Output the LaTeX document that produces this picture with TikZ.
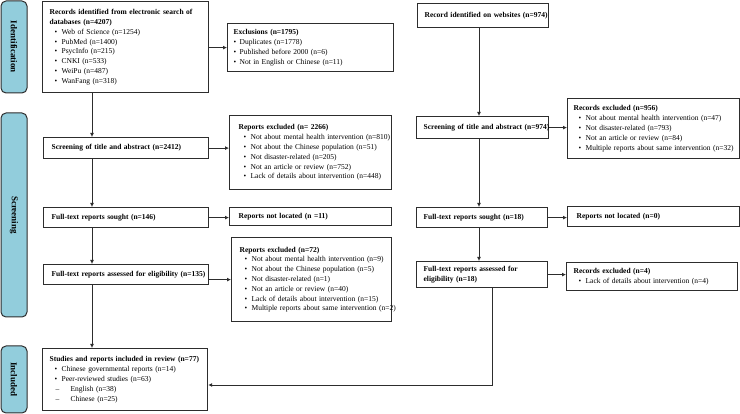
\documentclass[tikz,border=0pt]{standalone}
\usepackage{fontspec}
\setmainfont{Liberation Serif}
\usetikzlibrary{arrows.meta}
\definecolor{sideblue}{RGB}{146,205,220}
\definecolor{edge}{RGB}{45,45,45}
\newcommand{\itm}[1]{\\\mbox{\hspace*{5pt}\makebox[7pt][l]{\textbullet}#1}}
\newcommand{\itmz}[1]{\\\mbox{\makebox[6pt][l]{\textbullet}#1}}
\newcommand{\sitm}[1]{\\\mbox{\hspace*{5pt}\makebox[16pt][l]{\hspace*{1pt}--}#1}}
\newcommand{\ttl}[1]{\mbox{\bfseries #1}}
\tikzset{
  box/.style={draw=edge, line width=1.2pt, anchor=north west, align=left, inner ysep=0pt,
    font=\fontsize{7.5}{9.8}\selectfont},
  side/.style={draw=edge, line width=1pt, fill=sideblue, rounded corners=5pt, rotate=-90,
    minimum height=26pt, inner sep=0pt, font=\fontsize{9}{10}\selectfont\bfseries},
  arr/.style={draw=edge, line width=0.8pt, -{Latex[length=4pt,width=4pt]}},
  ln/.style={draw=edge, line width=0.8pt}
}
\begin{document}
\begin{tikzpicture}[x=1pt,y=-1pt]
\useasboundingbox (0,0) rectangle (740,414);

% side bars
\node[side, minimum width=92pt] (sid) at (14,47) {Identification};
\node[side, minimum width=204pt] (sscr) at (14,215) {Screening};
\node[side, minimum width=67pt] (sinc) at (14,379.5) {Included};

% left column
\node[box, inner xsep=7pt, minimum width=166pt, minimum height=91pt, text width=152pt] (A) at (42,1)
 {\ttl{Records identified from electronic search of}\\\ttl{databases (n=4207)}%
  \itm{Web of Science (n=1254)}\itm{PubMed (n=1400)}\itm{PsycInfo (n=215)}%
  \itm{CNKI (n=533)}\itm{WeiPu (n=487)}\itm{WanFang (n=318)}};
\node[box, inner xsep=6pt, minimum width=166pt, minimum height=48pt, text width=154pt] (excl) at (227,23)
 {\ttl{Exclusions (n=1795)}\itmz{Duplicates (n=1778)}\itmz{Published before 2000 (n=6)}%
  \itmz{Not in English or Chinese (n=11)}};
\node[box, inner xsep=8pt, minimum width=165pt, minimum height=21pt, text width=149pt] (scr) at (43,137)
 {\ttl{Screening of title and abstract (n=2412)}};
\node[box, inner xsep=9pt, minimum width=162pt, minimum height=74pt, text width=144pt] (rex1) at (229,115)
 {\ttl{Reports excluded (n= 2266)}\itm{Not about mental health intervention (n=810)}%
  \itm{Not about the Chinese population (n=51)}\itm{Not disaster-related (n=205)}%
  \itm{Not an article or review (n=752)}\itm{Lack of details about intervention (n=448)}};
\node[box, inner xsep=8pt, minimum width=165pt, minimum height=20pt, text width=149pt] (sought) at (43,207)
 {\ttl{Full-text reports sought (n=146)}};
\node[box, inner xsep=9pt, minimum width=162pt, minimum height=18pt, text width=144pt] (notloc) at (229,207)
 {\ttl{Reports not located (n =11)}};
\node[box, inner xsep=8pt, minimum width=165pt, minimum height=20pt, text width=149pt] (assess) at (43,264)
 {\ttl{Full-text reports assessed for eligibility (n=135)}};
\node[box, inner xsep=8pt, minimum width=160pt, minimum height=84pt, text width=144pt] (rex2) at (231,237)
 {\ttl{Reports excluded (n=72)}\itm{Not about mental health intervention (n=9)}%
  \itm{Not about the Chinese population (n=5)}\itm{Not disaster-related (n=1)}%
  \itm{Not an article or review (n=40)}\itm{Lack of details about intervention (n=15)}%
  \itm{Multiple reports about same intervention (n=2)}};
\node[box, inner xsep=7pt, minimum width=165pt, minimum height=62pt, text width=151pt] (incl) at (42,348)
 {\ttl{Studies and reports included in review (n=77)}\itm{Chinese governmental reports (n=14)}%
  \itm{Peer-reviewed studies (n=63)}\sitm{English (n=38)}\sitm{Chinese (n=25)}};

% right column
\node[box, inner xsep=7pt, minimum width=131pt, minimum height=24pt, text width=117pt] (web) at (417,3)
 {\ttl{Record identified on websites (n=974)}};
\node[box, inner xsep=7pt, minimum width=132pt, minimum height=22pt, text width=118pt] (scr2) at (416,116)
 {\ttl{Screening of title and abstract (n=974)}};
\node[box, inner xsep=6pt, minimum width=172pt, minimum height=60pt, text width=160pt] (rec1) at (567,98)
 {\ttl{Records excluded (n=956)}\itm{Not about mental health intervention (n=47)}%
  \itm{Not disaster-related (n=793)}\itm{Not an article or review (n=84)}%
  \itm{Multiple reports about same intervention (n=32)}};
\node[box, inner xsep=7pt, minimum width=131pt, minimum height=20pt, text width=117pt] (sought2) at (416,207)
 {\ttl{Full-text reports sought (n=18)}};
\node[box, inner xsep=9pt, minimum width=172pt, minimum height=20pt, text width=154pt] (notloc2) at (567,206)
 {\ttl{Reports not located (n=0)}};
\node[box, inner xsep=7pt, minimum width=131pt, minimum height=26pt, text width=117pt] (assess2) at (416,261)
 {\ttl{Full-text reports assessed for}\\\ttl{eligibility (n=18)}};
\node[box, inner xsep=7pt, minimum width=171pt, minimum height=28pt, text width=157pt] (rec2) at (566,262)
 {\ttl{Records excluded (n=4)}\itm{Lack of details about intervention (n=4)}};

% connectors
\coordinate (lx) at (92,0);
\coordinate (rx) at (479,0);
\coordinate (turn) at (492,385);
\draw[arr] (A.south -| lx) -- (scr.north -| lx);
\draw[arr] (scr.south -| lx) -- (sought.north -| lx);
\draw[arr] (sought.south -| lx) -- (assess.north -| lx);
\draw[arr] (assess.south -| lx) -- (incl.north -| lx);
\draw[arr] (A.east |- excl.west) -- (excl.west);
\draw[arr] (scr.east) -- (scr.east -| rex1.west);
\draw[arr] (sought.east) -- (sought.east -| notloc.west);
\draw[arr] (assess.east |- rex2.west) -- (rex2.west);

\draw[arr] (web.south -| rx) -- (scr2.north -| rx);
\draw[arr] (scr2.south -| rx) -- (sought2.north -| rx);
\draw[arr] (sought2.south -| rx) -- (assess2.north -| rx);
\draw[arr] (scr2.east) -- (scr2.east -| rec1.west);
\draw[arr] (sought2.east) -- (sought2.east -| notloc2.west);
\draw[arr] (assess2.east) -- (assess2.east -| rec2.west);
\draw[arr] (assess2.south -| turn) -- (turn) -- (incl.east |- turn);
\end{tikzpicture}
\end{document}
